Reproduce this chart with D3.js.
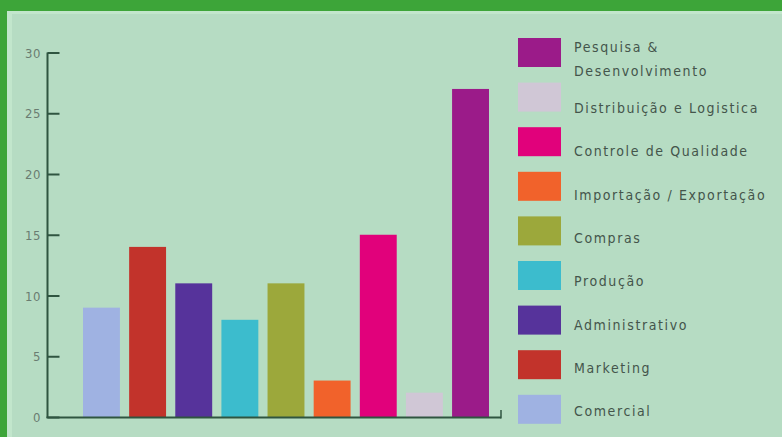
<!DOCTYPE html>
<html><head><meta charset="utf-8">
<script src="https://cdn.jsdelivr.net/npm/d3@7"></script>
<style>
html,body{margin:0;padding:0;background:#b6dcc3;}
svg{display:block;}
</style></head>
<body>
<svg id="chart" width="782" height="437"></svg>
<script>
const categories = ["Comercial","Marketing","Administrativo","Produção","Compras","Importação / Exportação","Controle de Qualidade","Distribuição e Logistica","Pesquisa & Desenvolvimento"];
const values = [9,14,11,8,11,3,15,2,27];
const colors = ["#9fb2e2","#c2332b","#56339b","#3cbccd","#9ca83b","#f1622b","#e1017b","#d0c7d6","#9b1b89"];
const legendOrder = ["Pesquisa & Desenvolvimento","Distribuição e Logistica","Controle de Qualidade","Importação / Exportação","Compras","Produção","Administrativo","Marketing","Comercial"];
const legendLines = {"Pesquisa & Desenvolvimento":["Pesquisa &","Desenvolvimento"]};
const yTicks = [0,5,10,15,20,25,30];

const svg = d3.select("#chart");
// background and frame
svg.append("rect").attr("width",782).attr("height",437).attr("fill","#b6dcc3");
svg.append("rect").attr("x",7).attr("y",11).attr("width",5).attr("height",426).attr("fill","#c2e6cc");
svg.append("rect").attr("x",7).attr("y",11).attr("width",775).attr("height",3).attr("fill","#c2e6cc");
svg.append("rect").attr("x",0).attr("y",0).attr("width",782).attr("height",11).attr("fill","#3da539");
svg.append("rect").attr("x",0).attr("y",0).attr("width",7).attr("height",437).attr("fill","#3da539");

const color = d3.scaleOrdinal().domain(categories).range(colors);
const x = d3.scaleBand().domain(categories).range([78.4,493.6]).paddingInner(0.2).paddingOuter(0.1);
const y = d3.scaleLinear().domain([0,30]).range([417,52.5]);

// bars
svg.append("g").selectAll("rect").data(categories).join("rect")
  .attr("x",d=>x(d)).attr("width",x.bandwidth())
  .attr("y",(d,i)=>y(values[i])).attr("height",(d,i)=>y(0)-y(values[i]))
  .attr("fill",d=>color(d));

// y axis
const axisColor = "#2f5540";
const yAxis = svg.append("g").attr("transform","translate(47.5,0)")
  .call(d3.axisRight(y).tickValues(yTicks).tickSize(12).tickFormat(""));
yAxis.select(".domain").remove();
yAxis.selectAll("line").attr("stroke",axisColor).attr("stroke-width",2);
svg.append("line").attr("x1",47.5).attr("x2",47.5).attr("y1",y(30)).attr("y2",y(0)+1).attr("stroke",axisColor).attr("stroke-width",2);
svg.append("g").selectAll("text").data(yTicks).join("text")
  .attr("x",41).attr("y",d=>y(d)+5).attr("text-anchor","end")
  .attr("font-family","'DejaVu Sans Condensed',sans-serif")
  .attr("font-size",13).attr("letter-spacing",0.5).attr("fill","#6a7c71").text(d=>d);

// x axis baseline with right end tick
svg.append("line").attr("x1",46.5).attr("x2",501).attr("y1",417.5).attr("y2",417.5).attr("stroke",axisColor).attr("stroke-width",2);
svg.append("line").attr("x1",501).attr("x2",501).attr("y1",410).attr("y2",418.5).attr("stroke",axisColor).attr("stroke-width",1.5);

// legend
const lg = svg.append("g");
lg.selectAll("rect").data(legendOrder).join("rect")
  .attr("x",518).attr("y",(d,i)=>38 + i*44.6)
  .attr("width",43).attr("height",29).attr("fill",d=>color(d));
lg.selectAll("text").data(legendOrder).join("text")
  .attr("font-family","'DejaVu Sans Condensed',sans-serif")
  .attr("font-size",14).attr("letter-spacing",1.6).attr("fill","#44554b")
  .each(function(d,i){
    const t = d3.select(this);
    const lines = legendLines[d] || [d];
    if(lines.length===2){
      t.append("tspan").attr("x",574).attr("y",52).text(lines[0]);
      t.append("tspan").attr("x",574).attr("y",76).text(lines[1]);
    } else {
      t.append("tspan").attr("x",574).attr("y",113 + (i-1)*43.3).text(lines[0]);
    }
  });
</script>
</body></html>
